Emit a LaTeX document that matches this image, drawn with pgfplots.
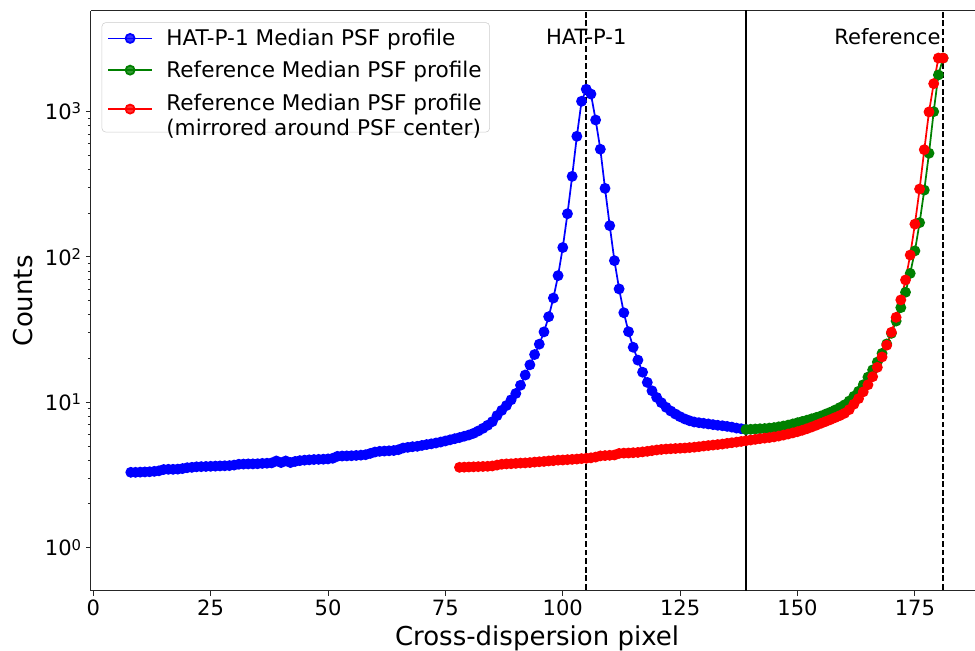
\documentclass[border=0pt]{standalone}
\usepackage{fontspec}
\setmainfont{DejaVu Sans}
\usepackage{pgfplots}
\pgfplotsset{compat=1.18}
\usetikzlibrary{calc}

\definecolor{mplblue}{RGB}{0,0,255}
\definecolor{mplgreen}{RGB}{0,128,0}
\definecolor{mplred}{RGB}{255,0,0}

\newcommand{\dec}[1]{10\raisebox{4.4pt}{\fontsize{11.1}{11}\selectfont #1}}

\pgfplotstableread{
x y
8 3.30
9 3.30
10 3.31
11 3.32
12 3.33
13 3.35
14 3.38
15 3.45
16 3.46
17 3.46
18 3.47
19 3.50
20 3.55
21 3.57
22 3.60
23 3.61
24 3.62
25 3.63
26 3.64
27 3.65
28 3.66
29 3.67
30 3.70
31 3.75
32 3.76
33 3.77
34 3.77
35 3.78
36 3.80
37 3.81
38 3.83
39 3.95
40 3.85
41 3.95
42 3.85
43 3.92
44 3.97
45 4.00
46 4.02
47 4.04
48 4.05
49 4.06
50 4.08
51 4.12
52 4.25
53 4.27
54 4.28
55 4.29
56 4.31
57 4.33
58 4.36
59 4.45
60 4.55
61 4.60
62 4.62
63 4.64
64 4.66
65 4.72
66 4.85
67 4.90
68 4.95
69 4.98
70 5.05
71 5.12
72 5.18
73 5.25
74 5.33
75 5.42
76 5.52
77 5.62
78 5.72
79 5.84
80 5.96
81 6.12
82 6.35
83 6.62
84 6.95
85 7.36
86 8.10
87 8.80
88 9.50
89 10.4
90 11.5
91 13.1
92 15.4
93 18.1
94 21.3
95 25.1
96 30.5
97 38.8
98 52.1
99 74.3
100 116
101 198
102 358
103 675
104 1175
105 1422
106 1318
107 874
108 550
109 296
110 164
111 94.2
112 60.2
113 41.3
114 30.6
115 23.9
116 19.5
117 16.1
118 13.7
119 12.0
120 10.8
121 9.94
122 9.24
123 8.71
124 8.30
125 7.96
126 7.68
127 7.47
128 7.32
129 7.24
130 7.17
131 7.10
132 7.02
133 6.95
134 6.90
135 6.83
136 6.75
137 6.65
138 6.58
139 6.50
}\hatdata

\pgfplotstableread{
x y
139 6.50
140 6.52
141 6.55
142 6.58
143 6.60
144 6.65
145 6.70
146 6.78
147 6.87
148 6.97
149 7.10
150 7.24
151 7.38
152 7.53
153 7.70
154 7.87
155 8.05
156 8.30
157 8.55
158 8.85
159 9.20
160 9.60
161 10.2
162 11.0
163 11.9
164 13.2
165 14.9
166 16.7
167 18.9
168 21.7
169 25.2
170 29.8
171 36.2
172 44.8
173 57.1
174 77.0
175 110
176 172
177 288
178 516
179 997
180 1783
181 2330
}\refdata

\pgfplotstableread{
x y
78 3.57
79 3.58
80 3.59
81 3.60
82 3.61
83 3.62
84 3.63
85 3.65
86 3.70
87 3.75
88 3.77
89 3.78
90 3.80
91 3.82
92 3.83
93 3.85
94 3.88
95 3.90
96 3.92
97 3.95
98 3.97
99 4.00
100 4.01
101 4.03
102 4.05
103 4.07
104 4.10
105 4.12
106 4.15
107 4.20
108 4.28
109 4.30
110 4.32
111 4.34
112 4.45
113 4.47
114 4.48
115 4.50
116 4.52
117 4.56
118 4.60
119 4.65
120 4.70
121 4.74
122 4.77
123 4.79
124 4.81
125 4.83
126 4.85
127 4.88
128 4.91
129 4.95
130 5.00
131 5.04
132 5.08
133 5.12
134 5.16
135 5.22
136 5.27
137 5.32
138 5.38
139 5.44
140 5.50
141 5.56
142 5.62
143 5.67
144 5.72
145 5.78
146 5.86
147 5.95
148 6.05
149 6.16
150 6.28
151 6.42
152 6.58
153 6.76
154 6.96
155 7.17
156 7.38
157 7.60
158 7.85
159 8.10
160 8.40
161 8.90
162 9.70
163 10.6
164 11.8
165 13.2
166 15.0
167 17.4
168 20.5
169 24.7
170 30.3
171 38.4
172 50.6
173 69.4
174 103
175 168
176 293
177 546
178 993
179 1553
180 2330
181 2330
}\mirdata

\begin{document}
\begin{tikzpicture}
\begin{axis}[
  name=ax,
  scale only axis,
  width=663.2pt, height=435pt,
  ymode=log,
  xmin=-0.55, xmax=187.8,
  ymin=0.506, ymax=4935,
  axis x line*=box, axis y line*=left,
  axis line style={black!85, line width=0.8pt},
  tick pos=left,
  tick align=outside,
  major tick length=3.6pt,
  minor tick length=2.1pt,
  every tick/.style={black!85, line width=0.7pt},
  /pgf/number format/assume math mode=true,
  xtick={0,25,50,75,100,125,150,175},
  ytick={1,10,100,1000},
  yticklabels={\dec{0},\dec{1},\dec{2},\dec{3}},
  tick label style={font=\fontsize{15.8}{18}\selectfont},
  xlabel={Cross-dispersion pixel},
  ylabel={Counts},
  label style={font=\fontsize{19.5}{23}\selectfont},
  xlabel style={at={(axis description cs:0.5048,-0.0943)}, anchor=base},
  ylabel style={at={(axis description cs:-0.0653,0.5)}, anchor=base},
  legend cell align=left,
  legend style={at={(axis description cs:0.0124,0.980)}, anchor=north west,
    draw=black!20, rounded corners=3pt, fill=white, fill opacity=0.8, text opacity=1,
    font=\fontsize{16.2}{18.75}\selectfont, row sep=6pt, inner xsep=4pt, inner ysep=3pt,
    /tikz/every odd column/.append style={column sep=8pt}},
  legend image code/.code={\draw[#1, line width=1.3pt, mark repeat=2, mark phase=2]
    plot coordinates {(0pt,0pt) (16.5pt,0pt) (33pt,0pt)};},
  every axis plot/.append style={line width=1.3pt, mark=*, mark size=3.4pt},
]
\addplot[mplblue, mark options={fill=mplblue, draw=mplblue}] table {\hatdata};
\addlegendentry{HAT-P-1 Median PSF profile}
\addplot[mplgreen, mark options={fill=mplgreen, draw=mplgreen}] table {\refdata};
\addlegendentry{Reference Median PSF profile}
\addplot[mplred, mark options={fill=mplred, draw=mplred}] table {\mirdata};
\addlegendentry{\begin{tabular}{@{}l@{}}Reference Median PSF profile\\(mirrored around PSF center)\end{tabular}}

\addplot[black, mark=none, line width=1.3pt, dash pattern=on 4.4pt off 2pt, forget plot] coordinates {(105,0.3) (105,10000)};
\addplot[black, mark=none, line width=1.3pt, dash pattern=on 4.4pt off 2pt, forget plot] coordinates {(181,0.3) (181,10000)};
\addplot[black, mark=none, line width=1.3pt, forget plot] coordinates {(139,0.3) (139,10000)};

\node[font=\fontsize{15.8}{18}\selectfont] at (axis cs:105,3250) {HAT-P-1};
\node[font=\fontsize{15.8}{18}\selectfont, anchor=east, inner sep=0pt] at (axis cs:180.5,3250) {Reference};
\end{axis}
\pgfresetboundingbox
\path[use as bounding box] ($(ax.south west)+(-68pt,-44.5pt)$) rectangle ($(ax.north east)+(0pt,8pt)$);
\end{tikzpicture}
\end{document}
